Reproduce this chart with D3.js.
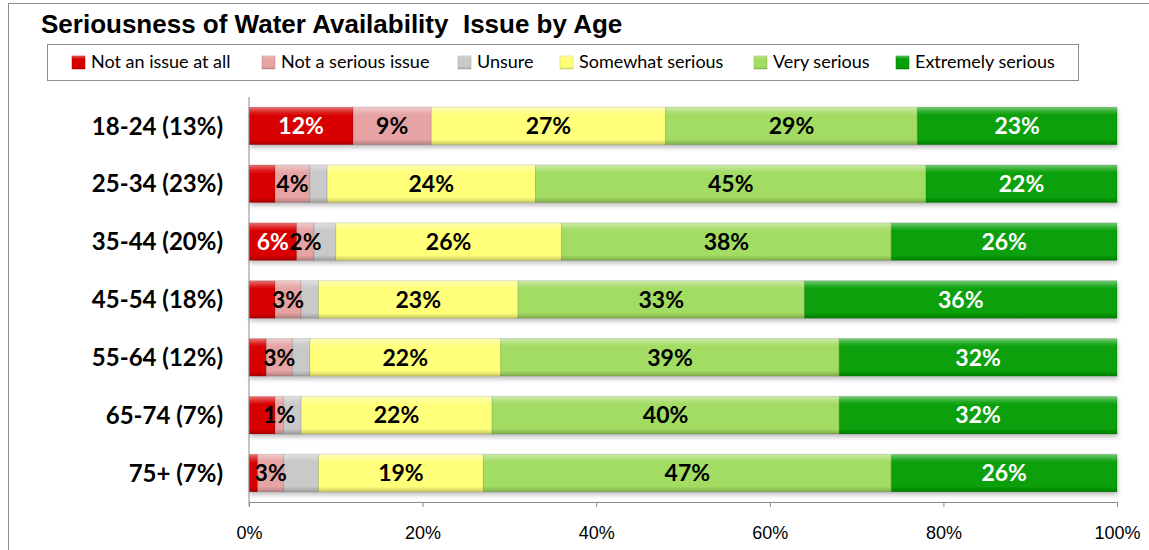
<!DOCTYPE html>
<html>
<head>
<meta charset="utf-8">
<script src="https://cdn.jsdelivr.net/npm/d3@7"></script>
<style>
  body { margin: 0; background: #fff; }
  svg { display: block; }
</style>
</head>
<body>
<div id="chart"></div>
<script>
// data
const categories = ['18-24 (13%)', '25-34 (23%)', '35-44 (20%)', '45-54 (18%)', '55-64 (12%)', '65-74 (7%)', '75+ (7%)'];
const seriesNames = ['Not an issue at all', 'Not a serious issue', 'Unsure', 'Somewhat serious', 'Very serious', 'Extremely serious'];
const notAnIssue = [12, 3, 5.5, 3, 2, 3, 1];
const notSerious = [9, 4, 2, 3, 3, 1, 3];
const unsure = [0, 2, 2.5, 2, 2, 2, 4];
const somewhatSerious = [27, 24, 26, 23, 22, 22, 19];
const verySerious = [29, 45, 38, 33, 39, 40, 47];
const extremelySerious = [23, 22, 26, 36, 32, 32, 26];
const xTicks = [0, 0.2, 0.4, 0.6, 0.8, 1];

const seriesValues = [notAnIssue, notSerious, unsure, somewhatSerious, verySerious, extremelySerious];
const colors = ['#d80000', '#e6a3a3', '#c9c9c9', '#ffff7a', '#a2dc62', '#07a007'];
const labelColors = ['#fff', '#000', '#000', '#000', '#000', '#fff'];
// smallest value that still gets a data label (unsure never labelled)
const labelMin = [5, 0, Infinity, 0, 0, 0];

const W = 1149, H = 550;
const svg = d3.select('#chart').append('svg')
  .attr('width', W)
  .attr('height', H);

const defs = svg.append('defs');
colors.forEach((c, i) => {
  const g = defs.append('linearGradient')
    .attr('id', 'grad' + i)
    .attr('x1', 0).attr('y1', 0).attr('x2', 0).attr('y2', 1);
  const base = d3.color(c);
  g.append('stop').attr('offset', '0%').attr('stop-color', d3.interpolateRgb(c, '#fff')(0.45));
  g.append('stop').attr('offset', '14%').attr('stop-color', d3.interpolateRgb(c, '#fff')(0.12));
  g.append('stop').attr('offset', '22%').attr('stop-color', c);
  g.append('stop').attr('offset', '86%').attr('stop-color', c);
  g.append('stop').attr('offset', '100%').attr('stop-color', base.darker(0.7));
});
const shadow = defs.append('filter').attr('id', 'shadow')
  .attr('x', '-5%').attr('y', '-20%').attr('width', '110%').attr('height', '160%');
shadow.append('feDropShadow')
  .attr('dx', 1).attr('dy', 3).attr('stdDeviation', 2)
  .attr('flood-color', '#000').attr('flood-opacity', 0.25);

// outer chart frame
svg.append('rect')
  .attr('x', 8.5).attr('y', 3.5)
  .attr('width', W + 20).attr('height', H + 20)
  .attr('fill', 'none')
  .attr('stroke', '#8c8c8c')
  .attr('stroke-width', 1);

svg.append('text')
  .attr('x', 41).attr('y', 33)
  .style('white-space', 'pre')
  .attr('font-family', 'Liberation Sans, Arial, sans-serif')
  .attr('font-weight', 'bold')
  .attr('font-size', 26)
  .text('Seriousness of Water Availability  Issue by Age');

// legend
const legend = svg.append('g');
legend.append('rect')
  .attr('x', 47.5).attr('y', 44.5)
  .attr('width', 1031).attr('height', 36)
  .attr('fill', '#fff')
  .attr('stroke', '#8c8c8c');
const legendX = [72, 262, 458, 560, 754, 896];
seriesNames.forEach((name, i) => {
  const item = legend.append('g').attr('transform', `translate(${legendX[i]},62)`);
  item.append('rect')
    .attr('x', 0).attr('y', -6)
    .attr('width', 13).attr('height', 13)
    .attr('fill', `url(#grad${i})`)
    .attr('stroke', d3.color(colors[i]).darker(0.6))
    .attr('stroke-width', 0.5);
  item.append('text')
    .attr('x', 19).attr('y', 6)
    .attr('font-family', 'Lato, sans-serif')
    .attr('font-size', 18)
    .text(name);
});

const x = d3.scaleLinear().domain([0, 1]).range([249, 1117]);
const y = d3.scaleBand()
  .domain(categories)
  .range([97, 502])
  .paddingInner(0.35)
  .paddingOuter(0.175);

const table = categories.map((c, r) => {
  const row = { category: c };
  seriesNames.forEach((s, i) => { row[s] = seriesValues[i][r]; });
  return row;
});
const stacked = d3.stack()
  .keys(seriesNames)
  .offset(d3.stackOffsetExpand)(table);

const axisY = 502;

const layers = svg.append('g').attr('filter', 'url(#shadow)')
  .selectAll('g')
  .data(stacked)
  .join('g')
  .attr('fill', (d, i) => `url(#grad${i})`);

layers.selectAll('rect')
  .data(d => d)
  .join('rect')
  .attr('x', d => x(d[0]))
  .attr('y', d => y(d.data.category))
  .attr('width', d => x(d[1]) - x(d[0]))
  .attr('height', y.bandwidth())
  .attr('stroke', 'rgba(0,0,0,0.12)')
  .attr('stroke-width', 1);

// data labels
stacked.forEach((layer, i) => {
  svg.append('g')
    .selectAll('text')
    .data(layer.filter(d => d.data[seriesNames[i]] >= labelMin[i] && d.data[seriesNames[i]] > 0))
    .join('text')
    .attr('x', d => (x(d[0]) + x(d[1])) / 2)
    .attr('y', d => y(d.data.category) + y.bandwidth() / 2)
    .attr('dy', '0.36em')
    .attr('text-anchor', 'middle')
    .attr('font-family', 'Lato, sans-serif')
    .attr('font-weight', 'bold')
    .attr('font-size', 23)
    .attr('fill', labelColors[i])
    .text(d => Math.round(d.data[seriesNames[i]]) + '%');
});

// category axis
svg.append('line')
  .attr('x1', x(0)).attr('x2', x(0))
  .attr('y1', 97).attr('y2', axisY + 4)
  .attr('stroke', '#8c8c8c');
svg.append('g')
  .selectAll('text')
  .data(categories)
  .join('text')
  .attr('x', 223)
  .attr('y', d => y(d) + y.bandwidth() / 2)
  .attr('dy', '0.36em')
  .attr('text-anchor', 'end')
  .attr('font-family', 'Lato, sans-serif')
  .attr('font-weight', 'bold')
  .attr('font-size', 24)
  .text(d => d);

// value axis
const xAxis = svg.append('g')
  .attr('transform', `translate(0,${axisY})`)
  .call(d3.axisBottom(x).tickValues(xTicks).tickFormat(d3.format('.0%')).tickSize(5).tickPadding(19));
xAxis.select('.domain').attr('stroke', '#8c8c8c');
xAxis.selectAll('.tick line').attr('stroke', '#8c8c8c');
xAxis.selectAll('.tick text')
  .attr('font-family', 'Liberation Sans, Arial, sans-serif')
  .attr('font-size', 18)
  .attr('fill', '#000');
</script>
</body>
</html>
